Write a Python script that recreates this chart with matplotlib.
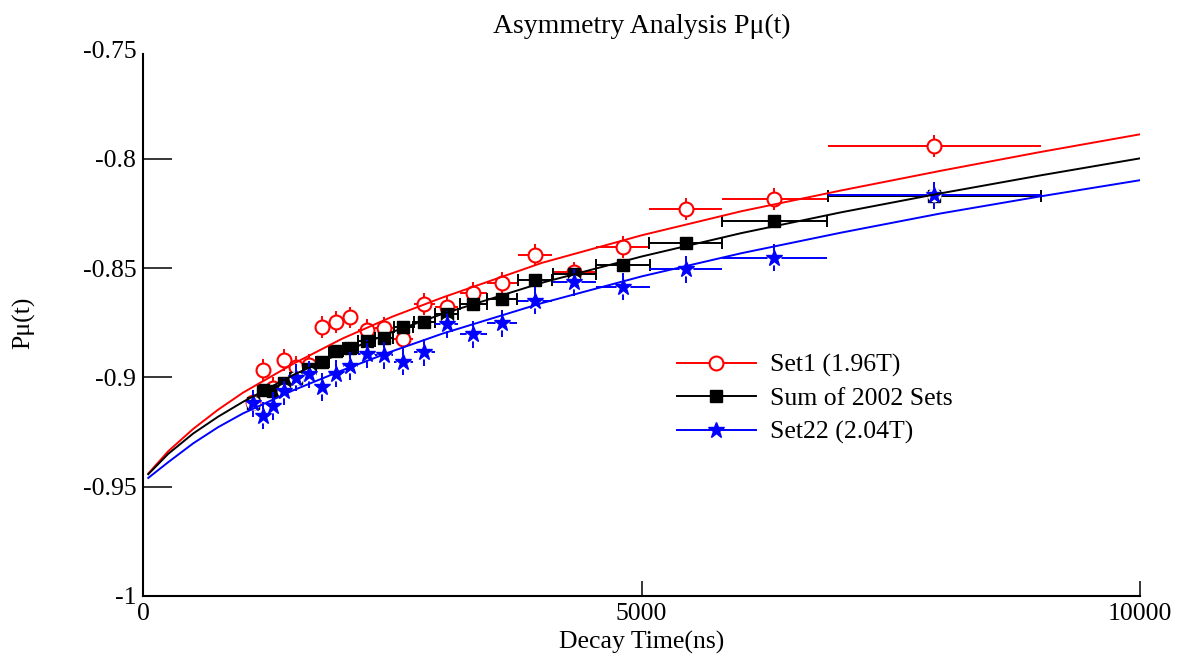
import matplotlib
matplotlib.use("Agg")
import matplotlib.pyplot as plt
from matplotlib.lines import Line2D

plt.rcParams['font.family'] = ['Liberation Serif', 'DejaVu Serif']
plt.rcParams['axes.unicode_minus'] = False

# binned decay times (ns) and half bin widths
times = [1098, 1201, 1304, 1415, 1532, 1665, 1798, 1931, 2079, 2241, 2418,
         2609, 2821, 3044, 3311, 3599, 3928, 4324, 4813, 5442, 6331, 7936]
time_err = [52, 52, 53, 56, 60, 66, 67, 70, 76, 84, 90,
            98, 108, 118, 133, 150, 170, 216, 266, 366, 527, 1068]

set1 = [-0.9112, -0.8967, -0.9048, -0.8921, -0.8954, -0.8944, -0.8769, -0.8748,
        -0.8726, -0.8784, -0.8776, -0.8825, -0.8665, -0.8676, -0.8612, -0.8569,
        -0.8438, -0.8520, -0.8404, -0.8230, -0.8184, -0.7940]
set1_err = [0.005] * 22

sum2002 = [-0.9119, -0.9058, -0.9061, -0.9027, -0.9002, -0.8963, -0.8929, -0.8880,
           -0.8867, -0.8834, -0.8822, -0.8768, -0.8745, -0.8710, -0.8665, -0.8642,
           -0.8553, -0.8526, -0.8486, -0.8383, -0.8284, -0.8169]

set22 = [-0.9118, -0.9176, -0.9131, -0.9063, -0.9001, -0.8985, -0.9044, -0.8984,
         -0.8948, -0.8893, -0.8898, -0.8929, -0.8886, -0.8758, -0.8802, -0.8753,
         -0.8649, -0.8564, -0.8586, -0.8505, -0.8453, -0.8166]
set22_err = [0.0062] * 22

# fitted curves
fit_t = [50, 250, 500, 750, 1000, 1500, 2000, 2500, 3000, 4000, 5000,
         6000, 7000, 8000, 9000, 10000]
fit_set1 = [-0.9440, -0.9338, -0.9236, -0.9148, -0.9070, -0.8939, -0.8822, -0.8722,
            -0.8635, -0.8476, -0.8350, -0.8240, -0.8145, -0.8055, -0.7969, -0.7888]
fit_sum = [-0.9443, -0.9350, -0.9257, -0.9180, -0.9112, -0.8990, -0.8885, -0.8792,
           -0.8710, -0.8567, -0.8447, -0.8340, -0.8245, -0.8158, -0.8076, -0.7998]
fit_set22 = [-0.9460, -0.9388, -0.9302, -0.9228, -0.9165, -0.9060, -0.8967, -0.8880,
             -0.8800, -0.8660, -0.8538, -0.8432, -0.8338, -0.8250, -0.8172, -0.8098]

yticks = [-1, -0.95, -0.9, -0.85, -0.8, -0.75]
ytick_labels = ['-1', '-0.95', '-0.9', '-0.85', '-0.8', '-0.75']
xticks = [0, 5000, 10000]
xtick_labels = ['0', '5000', '10000']

fs = 18.5
fig = plt.figure(figsize=(11.86, 6.6), dpi=100)
ax = fig.add_axes([0.1208, 0.0970, 0.8404, 0.8280])

lw = 1.4
# Set1
ax.errorbar(times, set1, xerr=time_err, yerr=set1_err, fmt='none',
            ecolor='red', elinewidth=lw, capsize=0, zorder=2)
ax.plot(times, set1, 'o', ms=10, mfc='white', mec='red', mew=1.5, zorder=3)
# Sum of 2002 sets
ax.errorbar(times, sum2002, xerr=time_err, fmt='none', ecolor='black',
            elinewidth=lw, capsize=4, capthick=lw, zorder=4)
ax.plot(times, sum2002, 's', ms=8, color='black', zorder=5)
# Set22
ax.errorbar(times, set22, xerr=time_err, yerr=set22_err, fmt='none',
            ecolor='blue', elinewidth=lw, capsize=0, zorder=6)
ax.plot(times, set22, 'o', ms=10, mfc='white', mec='none', zorder=7)
ax.plot(times, set22, '*', ms=12, color='blue', zorder=8)

ax.plot(fit_t, fit_set1, color='red', lw=lw, zorder=9)
ax.plot(fit_t, fit_sum, color='black', lw=lw, zorder=9)
ax.plot(fit_t, fit_set22, color='blue', lw=lw, zorder=9)

ax.set_xlim(0, 10000)
ax.set_ylim(-1, -0.75)
ax.set_xticks(xticks)
ax.set_xticklabels(xtick_labels)
ax.set_yticks(yticks)
ax.set_yticklabels(ytick_labels)
ax.tick_params(axis='y', direction='in', length=21, width=1.1, labelsize=fs, pad=5)
ax.tick_params(axis='x', direction='in', length=11, width=1.1, labelsize=fs, pad=5)
ax.yaxis.get_major_ticks()[-1].tick1line.set_visible(False)

for s in ['top', 'right']:
    ax.spines[s].set_visible(False)
for s in ['left', 'bottom']:
    ax.spines[s].set_linewidth(1.5)
ax.spines['left'].set_bounds(-1, -0.752)

ax.set_title('Asymmetry Analysis P\u03bc(t)', fontsize=20, pad=12)
ax.set_xlabel('Decay Time(ns)', fontsize=fs, labelpad=4)
ax.set_ylabel('P\u03bc(t)', fontsize=fs, labelpad=34)

handles = [
    Line2D([], [], color='red', lw=lw, marker='o', ms=10, mfc='white', mec='red', mew=1.5),
    Line2D([], [], color='black', lw=lw, marker='s', ms=8),
    Line2D([], [], color='blue', lw=lw, marker='*', ms=12),
]
labels = ['Set1 (1.96T)', 'Sum of 2002 Sets', 'Set22 (2.04T)']
ax.legend(handles, labels, loc='upper left', bbox_to_anchor=(0.571, 0.464),
          bbox_transform=fig.transFigure, frameon=False, fontsize=fs,
          handlelength=3.05, handletextpad=0.55, labelspacing=0.4,
          borderpad=0, borderaxespad=0)

fig.savefig('out.png', dpi=100)
